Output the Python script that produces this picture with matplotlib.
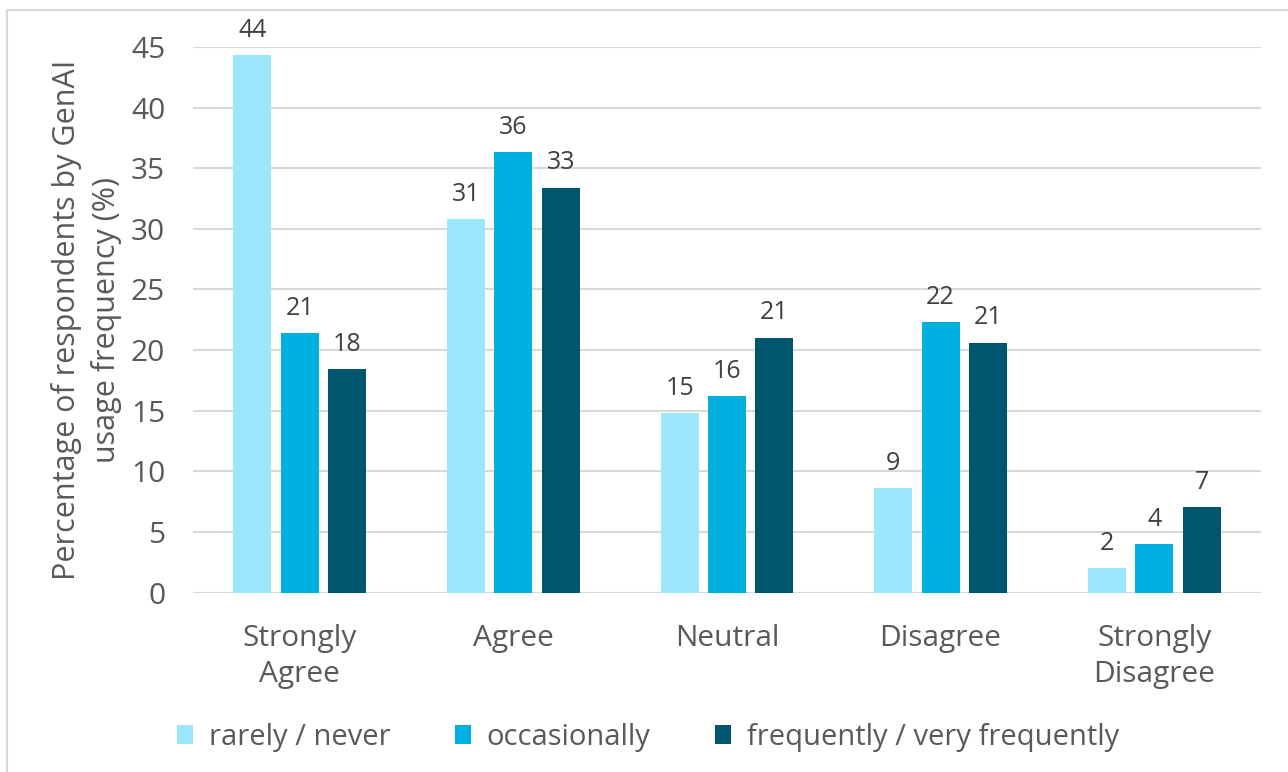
import matplotlib
matplotlib.use("Agg")
import matplotlib.pyplot as plt
import numpy as np
from matplotlib import font_manager
from matplotlib.patches import Rectangle

categories = ["Strongly\nAgree", "Agree", "Neutral", "Disagree", "Strongly\nDisagree"]
series_names = ["rarely / never", "occasionally", "frequently / very frequently"]
rarely_never = [44.3, 30.8, 14.8, 8.6, 2.0]
occasionally = [21.4, 36.3, 16.2, 22.3, 4.0]
frequently = [18.4, 33.4, 21.0, 20.6, 7.05]
y_ticks = [0, 5, 10, 15, 20, 25, 30, 35, 40, 45]
y_title_lines = ["Percentage of respondents by GenAI", "usage frequency (%)"]

colors = ["#9BE8FC", "#00B0E0", "#00566F"]
text_gray = "#595959"
label_gray = "#404040"

installed = {f.name for f in font_manager.fontManager.ttflist}
main_font = "Open Sans" if "Open Sans" in installed else "DejaVu Sans"
plt.rcParams["font.family"] = [main_font, "DejaVu Sans"]

fig = plt.figure(figsize=(12.88, 7.72), dpi=100)
fig.patch.set_facecolor("white")
ax = fig.add_axes([193 / 1288, 1 - 592.5 / 772, (1261 - 193) / 1288, (592.5 - 47) / 772])

# outer chart frame (top and left edges visible)
fig.patches.append(Rectangle((7 / 1288, -0.1), 1.2, 1 - 10 / 772 + 0.1,
                             transform=fig.transFigure, fill=False,
                             edgecolor="#D9D9D9", linewidth=1.5, zorder=0))

x = np.arange(len(categories))
width = 0.178
step = 0.222
all_series = [rarely_never, occasionally, frequently]
for i, (vals, col, name) in enumerate(zip(all_series, colors, series_names)):
    bars = ax.bar(x + (i - 1) * step, vals, width, color=col, label=name, zorder=3)
    for b, v in zip(bars, vals):
        ax.annotate(f"{v:.0f}", (b.get_x() + b.get_width() / 2, v),
                    xytext=(0, 9), textcoords="offset points",
                    ha="center", va="bottom", fontsize=18, color=label_gray, zorder=4)

ax.set_ylim(0, 45)
ax.set_xlim(-0.5, len(categories) - 0.5)
ax.set_yticks(y_ticks)
ax.yaxis.grid(True, color="#D9D9D9", linewidth=1.5, zorder=0)
ax.set_axisbelow(True)
for s in ["top", "right", "left", "bottom"]:
    ax.spines[s].set_visible(False)
ax.axhline(0, color="#D9D9D9", linewidth=1.5, zorder=2)
ax.tick_params(axis="y", length=0, pad=20, labelsize=21.5, labelcolor=text_gray)
ax.tick_params(axis="x", length=0, pad=23, labelsize=21.5, labelcolor=text_gray)
ax.set_xticks(x)
ax.set_xticklabels(categories, linespacing=1.32)

# two-line vertical axis title, both lines centred on the plot height
ax.text((66 - 193) / 1068, 0.5, y_title_lines[0], transform=ax.transAxes,
        rotation=90, ha="center", va="center", fontsize=22, color=text_gray)
ax.text((106 - 193) / 1068, 0.5, y_title_lines[1], transform=ax.transAxes,
        rotation=90, ha="center", va="center", fontsize=22, color=text_gray)

handles, labels = ax.get_legend_handles_labels()
leg = fig.legend(handles, labels, loc="center", ncol=3,
                 bbox_to_anchor=(648 / 1288, 1 - 737 / 772), frameon=False,
                 prop={"size": 21},
                 handlelength=0.55, handleheight=0.62, handletextpad=0.55,
                 columnspacing=2.2, labelcolor=text_gray)

fig.savefig("out.png", dpi=100, facecolor="white")
